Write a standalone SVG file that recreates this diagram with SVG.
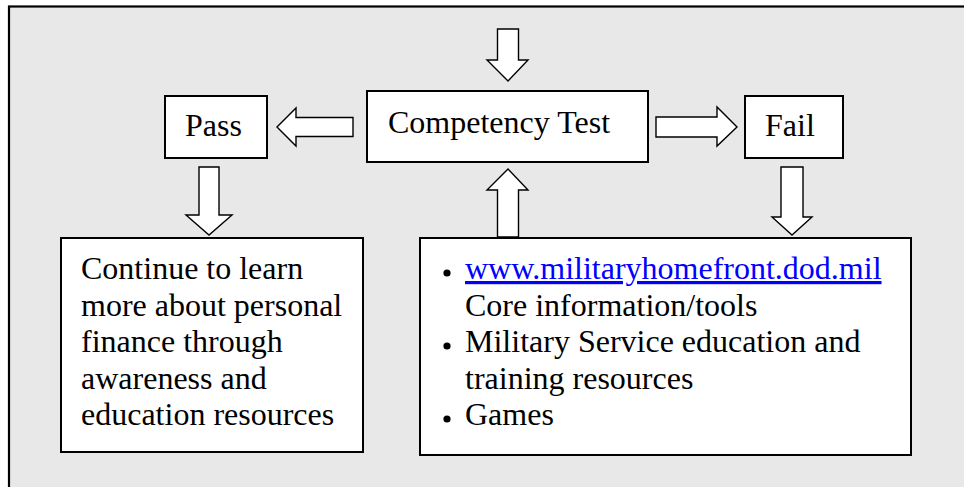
<svg xmlns="http://www.w3.org/2000/svg" width="964" height="487" viewBox="0 0 964 487">
<style>
.box{fill:#ffffff;stroke:#000000;stroke-width:2}
.arr{fill:#ffffff;stroke:#000000;stroke-width:1.4;stroke-linejoin:miter}
text{font-family:"Liberation Serif","Times New Roman",serif;font-size:32px;fill:#000000}
.link{fill:#0000ff;text-decoration:underline}
</style>
<rect x="0" y="0" width="964" height="487" fill="#ffffff"/>
<rect x="9" y="6.5" width="1000" height="1000" fill="#e8e8e8" stroke="#000000" stroke-width="2.2"/>
<g id="connectors">
<polygon class="arr" points="497.5,29 518.5,29 518.5,60 528,60 508,81 487,60 497.5,60"/>
<polygon class="arr" points="277,127 296,108 296,117.5 353,117.5 353,136.5 296,136.5 296,146"/>
<polygon class="arr" points="656,117 717,117 717,107 737,127 717,146 717,137 656,137"/>
<polygon class="arr" points="199,167 219,167 219,215 232,215 209,235 186,215 199,215"/>
<polygon class="arr" points="781,167 803,167 803,217 812,217 792,235 772,217 781,217"/>
<polygon class="arr" points="508,169 528,190 518.5,190 518.5,237 497.5,237 497.5,190 487,190"/>
</g>
<g id="pass">
<rect class="box" x="165" y="96" width="102" height="62"/>
<text x="185" y="136">Pass</text>
</g>
<g id="competency">
<rect class="box" x="367" y="91" width="281" height="71"/>
<text x="388" y="133">Competency Test</text>
</g>
<g id="fail">
<rect class="box" x="745" y="96" width="98" height="62"/>
<text x="765" y="136">Fail</text>
</g>
<g id="continue">
<rect class="box" x="61" y="238" width="302" height="214"/>
<text x="81" y="279">Continue to learn</text>
<text x="81" y="315.5">more about personal</text>
<text x="81" y="352">finance through</text>
<text x="81" y="388.5">awareness and</text>
<text x="81" y="425">education resources</text>
</g>
<g id="resources">
<rect class="box" x="420" y="238" width="491" height="217"/>
<circle cx="447" cy="273" r="3.6" fill="#000"/>
<text class="link" x="465" y="279">www.militaryhomefront.dod.mil</text>
<text x="465" y="315.5">Core information/tools</text>
<circle cx="447" cy="346" r="3.6" fill="#000"/>
<text x="465" y="352">Military Service education and</text>
<text x="465" y="388.5">training resources</text>
<circle cx="447" cy="419" r="3.6" fill="#000"/>
<text x="465" y="425">Games</text>
</g>
</svg>
